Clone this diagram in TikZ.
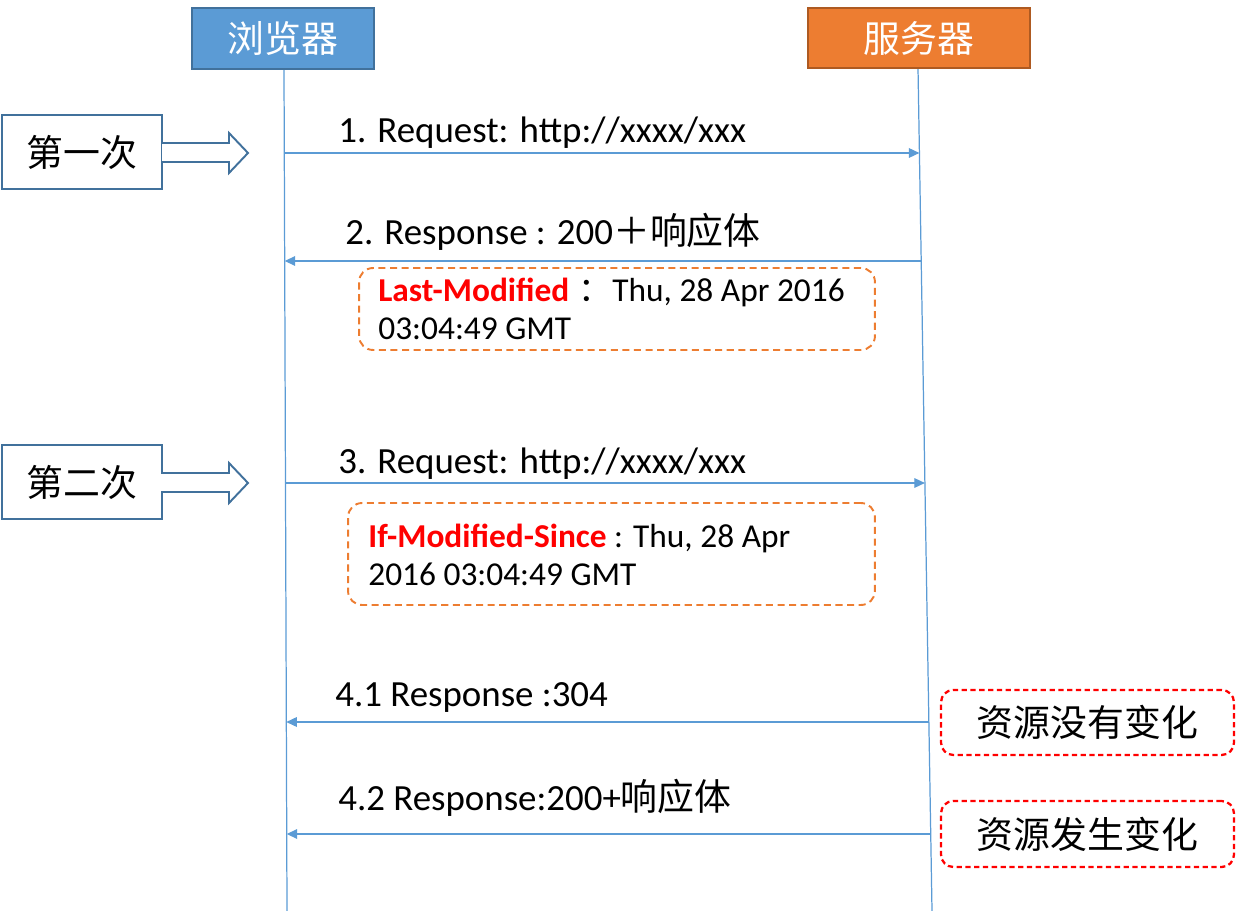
\documentclass[tikz,border=0pt]{standalone}
\usepackage{fontspec}
\setmainfont{Carlito}
\newfontfamily\cjk{Noto Sans CJK SC}
\usetikzlibrary{arrows.meta}
\definecolor{lblue}{HTML}{5B9BD5}
\definecolor{dblue}{HTML}{41719C}
\definecolor{lorange}{HTML}{ED7D31}
\definecolor{dorange}{HTML}{AE5A21}
\definecolor{mred}{HTML}{FF0000}
\newcommand\hlred[1]{\textcolor{mred}{\bfseries #1}}
\begin{document}
\begin{tikzpicture}[x=0.02cm,y=-0.02cm,
  actorb/.style={draw=dblue,line width=1.2pt,fill=lblue,text=white,font=\cjk\fontsize{21}{25}\selectfont,inner sep=0pt},
  actors/.style={draw=dorange,line width=1.2pt,fill=lorange,text=white,font=\cjk\fontsize{21}{25}\selectfont,inner sep=0pt},
  phase/.style={draw=dblue,line width=1.1pt,fill=white,font=\cjk\fontsize{21}{25}\selectfont,minimum width=3.2cm,minimum height=1.48cm,inner sep=0pt},
  blockarrow/.style={draw=dblue,line width=1.1pt,fill=white},
  life/.style={draw=lblue,line width=0.7pt},
  msg/.style={draw=lblue,line width=0.7pt,-{Triangle[length=6pt,width=5.5pt]}},
  lbl/.style={font=\fontsize{21}{25}\selectfont,anchor=base west,inner sep=0pt},
  note/.style={draw=lorange,line width=1.1pt,dash pattern=on 4pt off 2.6pt,rounded corners=8pt,inner sep=0pt},
  notetxt/.style={font=\fontsize{19}{22}\selectfont,anchor=base west,inner sep=0pt},
  rednote/.style={draw=mred,line width=1.3pt,dash pattern=on 3pt off 2pt,rounded corners=7pt,inner sep=0pt,font=\cjk\fontsize{21}{25}\selectfont,minimum width=5.86cm}
]
\useasboundingbox (0,0) rectangle (1236,911);

% lifelines
\coordinate (bTop) at (284,70);
\coordinate (bBot) at (287,911);
\coordinate (sTop) at (918,68);
\coordinate (sBot) at (932,911);
\draw[life] (bTop) -- (bBot);
\draw[life] (sTop) -- (sBot);

% actors
\node[actorb,minimum width=3.64cm,minimum height=1.22cm] (browser) at (283,38.5) {浏览器};
\node[actors,minimum width=4.44cm,minimum height=1.2cm] (server) at (919,38) {服务器};

% phase boxes with block arrows
\node[phase] (first) at (82,152) {第一次};
\draw[blockarrow] (162,143) -- (229,143) -- (229,133) -- (248,153) -- (229,173) -- (229,162) -- (162,162);
\node[phase] (second) at (82,482) {第二次};
\draw[blockarrow] (161,473) -- (229,473) -- (229,463) -- (248,483) -- (229,503) -- (229,492) -- (161,492);

% message endpoints
\coordinate (b1) at (284.3,153); \coordinate (s1) at (919.4,153);
\coordinate (b2) at (284.7,261); \coordinate (s2) at (921.2,261);
\coordinate (b3) at (285.5,483); \coordinate (s3) at (924.9,483);
\coordinate (b4) at (286.3,722); \coordinate (s4) at (928.9,722);
\coordinate (b5) at (286.7,834); \coordinate (s5) at (930.7,834);

\draw[msg] (b1) -- (s1);
\draw[msg] (s2) -- (b2);
\draw[msg] (b3) -- (s3);
\draw[msg] (s4) -- (b4);
\draw[msg] (s5) -- (b5);

% labels
\node[lbl] (l1) at (338,143) {1. Request: http://xxxx/xxx};
\node[lbl] (l2) at (345,245) {2. Response : 200{\cjk ＋响应体}};
\node[lbl] (l3) at (338,474) {3. Request: http://xxxx/xxx};
\node[lbl] (l4) at (335,706) {4.1 Response :304};
\node[lbl] (l5) at (338,810) {4.2 Response:200+{\cjk 响应体}};

% notes
\node[note,minimum width=10.32cm,minimum height=1.64cm] (n1) at (617,309) {};
\node[notetxt] (n1a) at (378,302) {\hlred{Last-Modified}\hspace{5pt}{\cjk ：}\hspace{0.5pt}Thu, 28 Apr 2016};
\node[notetxt] (n1b) at (378,340) {03:04:49 GMT};

\node[note,minimum width=10.54cm,minimum height=2.04cm] (n2) at (611.5,554) {};
\node[notetxt] (n2a) at (368,547) {\hlred{If-Modified-Since} : Thu, 28 Apr};
\node[notetxt] (n2b) at (368,585) {2016 03:04:49 GMT};

\node[rednote,minimum height=1.3cm] (r1) at (1087.5,722.5) {资源没有变化};
\node[rednote,minimum height=1.32cm] (r2) at (1087.5,834) {资源发生变化};
\end{tikzpicture}
\end{document}
